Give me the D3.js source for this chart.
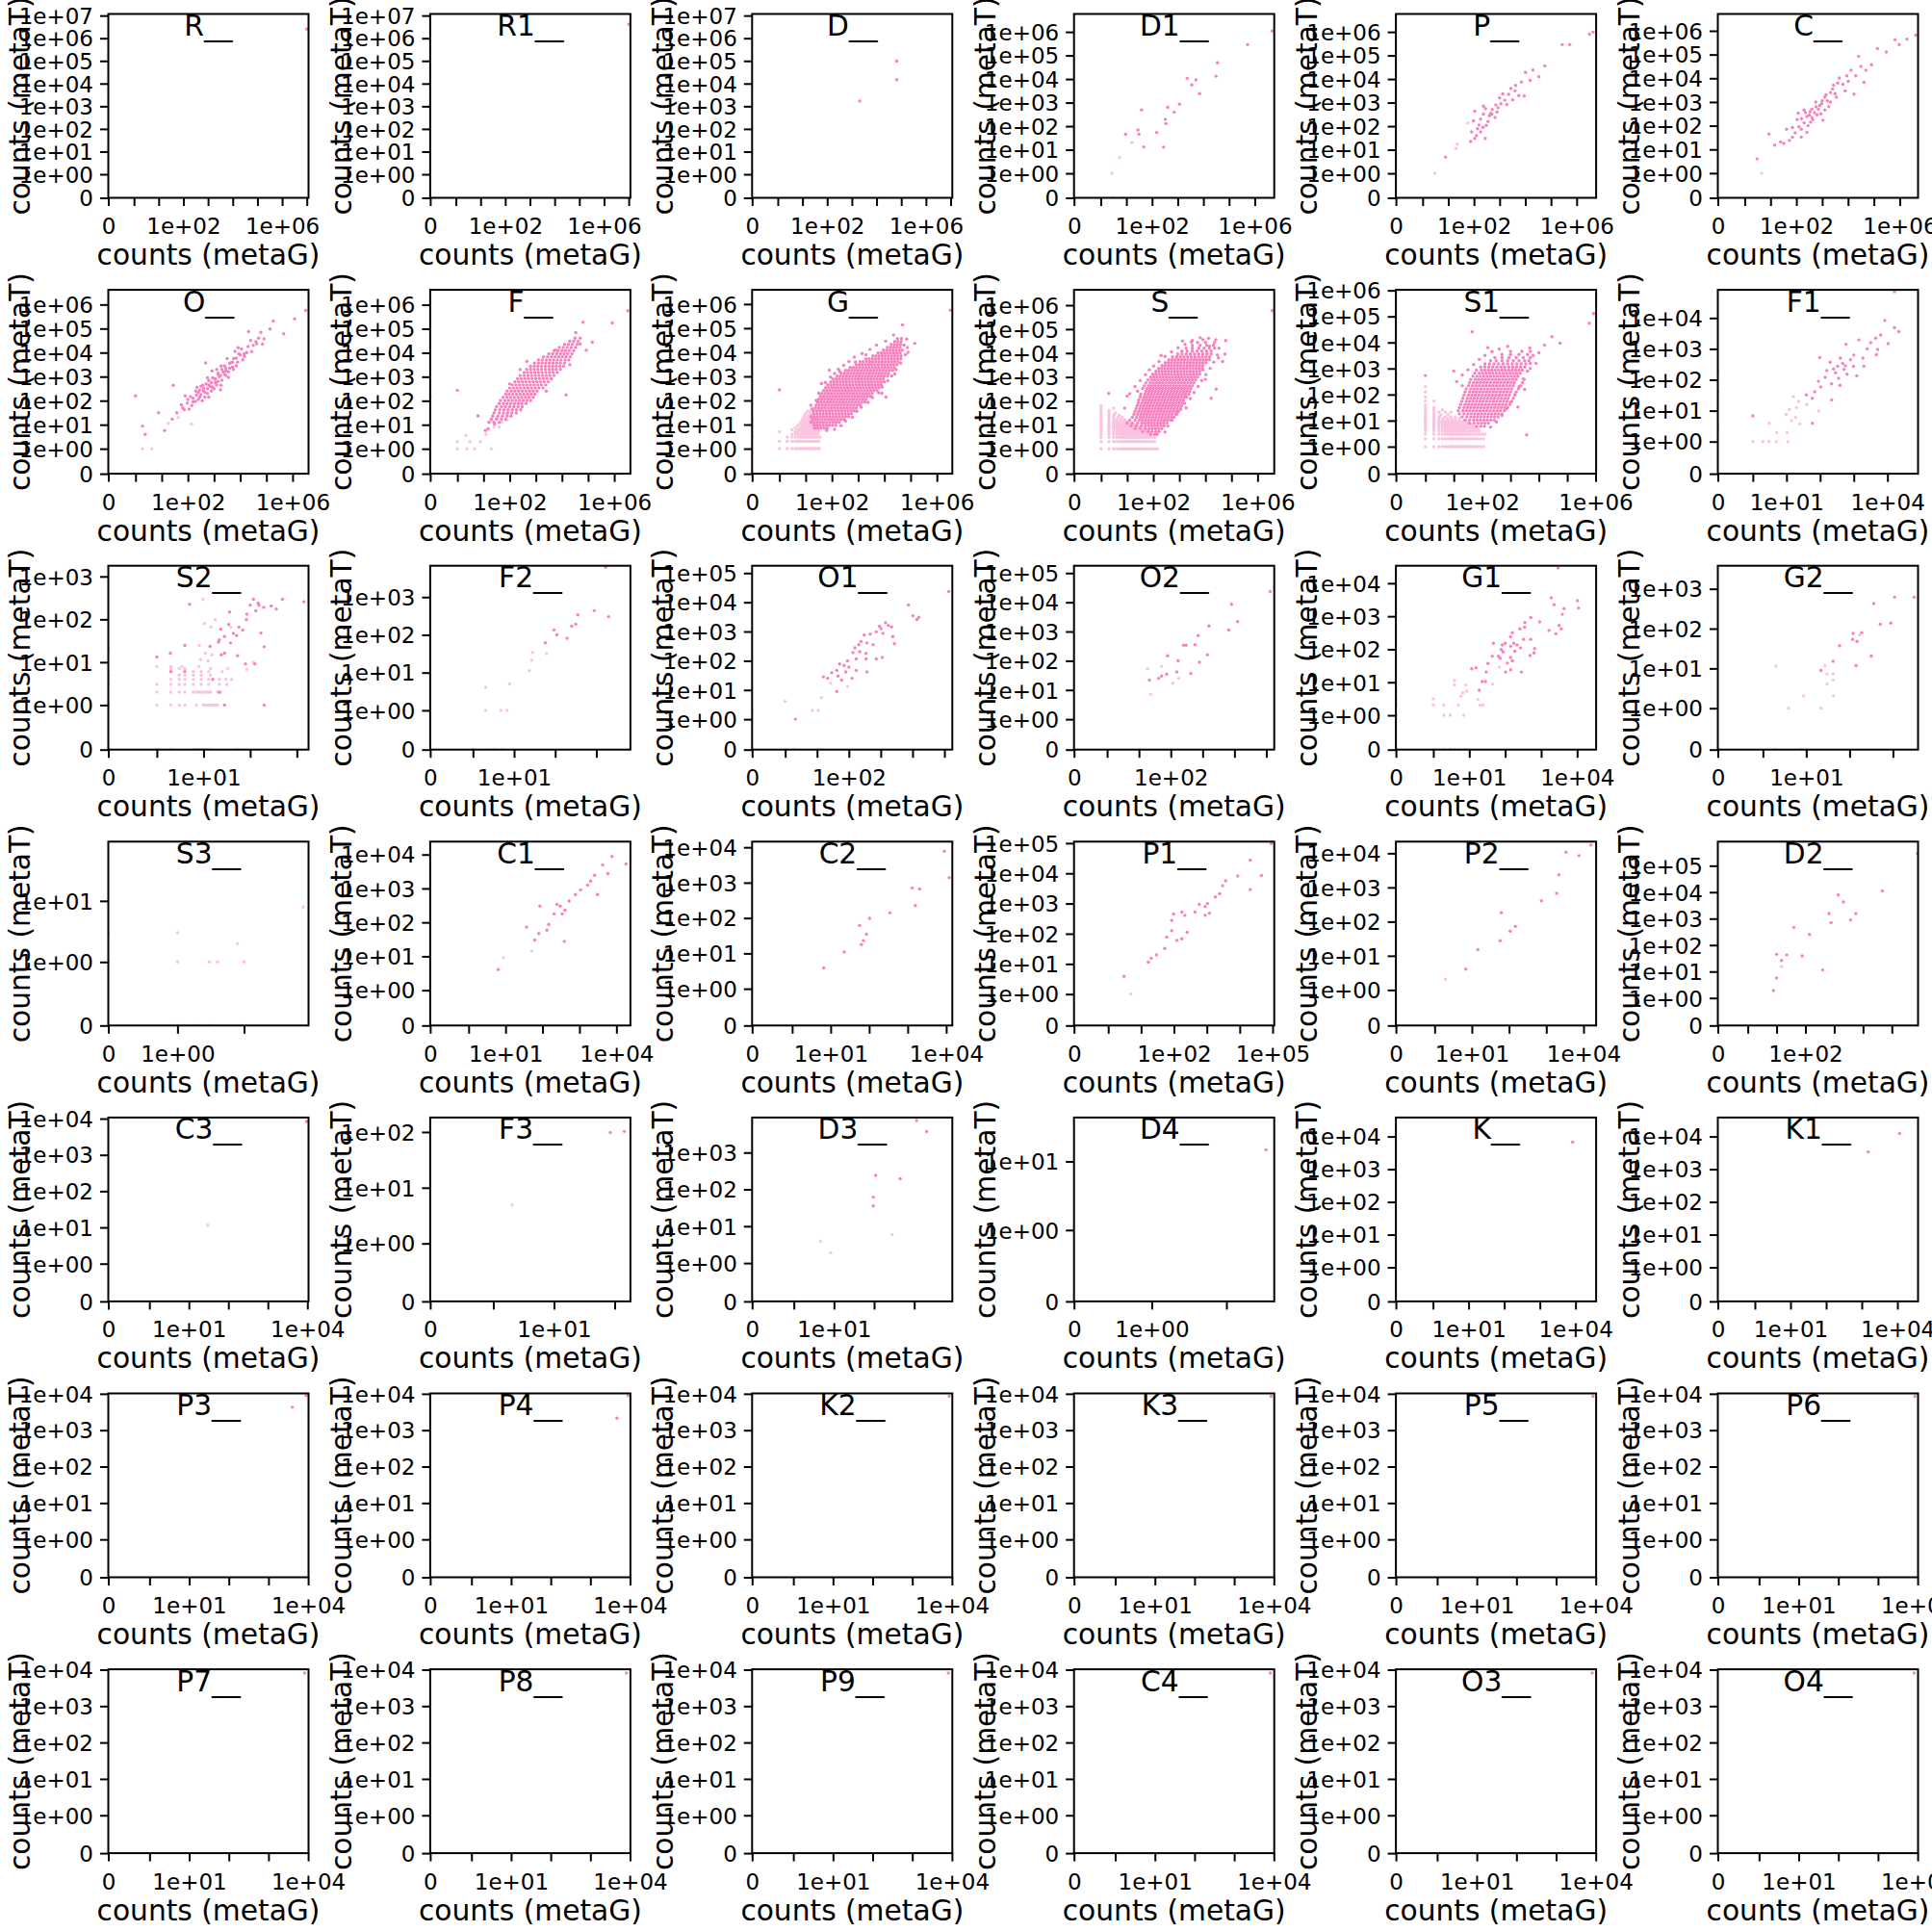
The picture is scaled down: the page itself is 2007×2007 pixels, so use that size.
<!DOCTYPE html>
<html><head><meta charset="utf-8">
<script src="https://cdn.jsdelivr.net/npm/d3@7"></script>
<style>
body{margin:0;background:#fff}
svg{display:block}
text{font-family:"DejaVu Sans",sans-serif;fill:#000}
</style>
</head><body>
<svg id="chart" width="2007" height="2007"></svg>
<script>
// ---------- helper for the data rows (value = log10(count), null = a count of 0) ----------
function rows(list){const out=[];list.forEach(([yv,xs])=>xs.forEach(xv=>out.push([xv,yv])));return out;}

// ---------- panels ----------
const panelNames=["R","R1","D","D1","P","C","O","F","G","S","S1","F1","S2","F2","O1","O2","G1","G2","S3","C1","C2","P1","P2","D2","C3","F3","D3","D4","K","K1","P3","P4","K2","K3","P5","P6","P7","P8","P9","C4","O3","O4"];
// log10 of the axis maximum (both axes share it)
const axisMaxLog=[7.07,7.07,7.07,6.76,6.76,6.71, 6.61,6.62,6.59,6.64,6.02,4.91, 3.25,3.83,5.25,5.25,4.53,3.58, 1.97,4.38,4.16,5.05,4.34,5.91, 4.03,2.26,3.95,1.64,4.58,4.58, 4.01,4.01,4.01,4.01,4.01,4.01, 4.01,4.01,4.01,4.01,4.01,4.01];
// decades that carry a label on the x axis ("0" is always labelled)
const xLabelExps=[[2,6],[2,6],[2,6],[2,6],[2,6],[2,6], [2,6],[2,6],[2,6],[2,6],[2,6],[1,4], [1],[1],[2],[2],[1,4],[1], [0],[1,4],[1,4],[2,5],[1,4],[2], [1,4],[1],[1],[0],[1,4],[1,4], [1,4],[1,4],[1,4],[1,4],[1,4],[1,4], [1,4],[1,4],[1,4],[1,4],[1,4],[1,4]];

// ---------- points: [log10 metaG count, log10 metaT count] ----------
const R_dark=[[7.0,6.4]], R_light=[];
const R1_dark=[[7.0,6.62]], R1_light=[];
const D_dark=[[4.82,4.99],[4.82,4.17],[3.32,3.23]], D_light=[];
const D1_dark=[[6.68,6.04],[5.72,5.46],[4.55,4.69],[4.49,4.12],[3.37,4.03],[3.71,3.96],[3.55,3.75],[3.85,3.38],[3.07,2.93],[2.61,2.8],[2.86,2.59],[2.52,2.29],[2.54,2.11],[1.59,2.69],[1.45,1.84],[1.49,1.66],[0.97,1.66],[2.18,1.73],[1.68,1.12],[2.45,1.11]];
const D1_light=[[1.22,1.3],[0.74,0.67],[0.44,0],[0,null],[0.44,null],[0.86,null]];
const P_dark=[[6.64,5.99],[6.5,5.9],[5.44,5.46],[5.73,5.46],[4.76,4.56],[4.53,4.1],[4.3,4.38],[4.01,4.28],[4.19,3.94],[3.85,3.87],[3.62,3.73],[3.44,3.6],[3.96,3.28],[3.12,3.37],[3.51,3.12],[3.28,2.92],[2.94,2.78],[2.71,2.71],[2.6,2.44],[2.37,2.85],[2.37,2.51],[2.26,2.3],[2.03,2.64],[1.98,2.23],[2.14,1.89],[1.91,1.76],[2.26,1.76],[2.03,1.48],[2.44,1.48],[1.87,1.35],[2.48,2.03],[2.82,2.37],[0.89,0.69],[2.2,2.05],[2.55,2.2],[2.7,2.5],[2.9,2.6],[3.05,2.95],[3.2,3.1],[2.45,2.75],[2.1,1.6],[2.35,1.95],[2.85,2.9],[3.35,3.35],[2.65,2.55],[3.0,3.2],[3.6,3.5],[3.75,3.3]];
const P_light=[[1.76,2.14],[1.35,1.24],[1.3,1.05],[0.48,0]];
const C_dark=[[6.62,5.82],[6.28,5.65],[5.82,5.62],[5.98,5.42],[5.48,5.11],[5.14,5.25],[4.41,4.92],[4.91,4.57],[4.69,4.34],[4.12,4.34],[4.62,3.83],[4.01,3.87],[3.66,4.01],[3.44,3.71],[3.89,3.47],[3.32,3.4],[3.55,3.2],[3.1,3.2],[4.23,3.33],[3.32,3.0],[2.98,2.93],[2.76,2.8],[3.1,2.66],[2.53,2.59],[2.8,2.46],[2.3,2.66],[2.41,2.39],[2.64,2.26],[2.07,2.53],[2.03,2.26],[2.3,2.12],[3.03,2.23],[1.85,1.92],[2.19,1.85],[2.41,1.72],[1.62,1.85],[1.85,1.52],[2.19,1.52],[1.39,1.32],[1.16,1.18],[1.51,1.25],[1.73,1.38],[0.94,1.65],[0.48,0.6],[2.5,2.45],[2.6,2.7],[2.7,2.55],[2.85,2.7],[2.9,2.85],[3.0,3.05],[3.2,3.05],[3.4,3.55],[3.6,3.8],[3.8,3.75],[3.25,2.8],[2.45,2.0],[2.2,2.3],[2.6,2.35],[2.95,2.5],[3.5,3.35],[3.15,3.3],[2.35,2.55],[2.75,3.0],[3.95,4.1],[4.3,4.1],[4.5,4.5],[2.1,1.95],[1.95,1.7],[2.55,2.15]];
const C_light=[[0.66,0]];
const O_dark=[[6.5,5.75],[6.08,5.4],[5.66,4.78],[5.26,5.31],[5.14,4.98],[4.79,4.84],[4.91,4.57],[4.63,4.37],[4.32,4.87],[4.44,4.04],[4.16,3.84],[3.92,4.2],[3.85,3.77],[3.62,3.57],[3.74,3.3],[3.46,3.24],[3.27,3.44],[3.55,2.97],[3.15,3.1],[2.92,3.24],[3.03,2.9],[2.8,2.84],[2.68,3.57],[3.27,2.64],[2.92,2.57],[2.57,2.64],[2.45,2.44],[2.75,2.3],[2.33,2.24],[2.1,2.17],[2.29,1.97],[1.98,1.9],[1.75,1.83],[1.86,1.63],[1.58,1.5],[1.44,2.64],[1.4,1.23],[0.88,1.5],[1.11,0.76],[0.27,0.94],[0.37,0.6],[0,2.2],[2.6,2.5],[2.7,2.7],[2.85,2.6],[2.95,2.95],[3.05,2.75],[3.2,3.0],[3.35,3.2],[3.4,3.45],[3.6,3.35],[3.1,3.3],[2.5,2.25],[2.4,2.05],[2.2,2.1],[2.55,2.0],[2.65,2.35],[2.9,2.4],[3.0,2.5],[3.15,2.8],[3.3,2.85],[3.45,3.05],[3.7,3.6],[3.85,3.45],[4.0,3.9],[4.1,3.7],[4.25,4.0],[4.5,4.3],[4.7,4.6],[4.85,4.35],[2.15,1.8],[2.0,2.05],[2.75,2.95],[3.5,3.75],[3.8,4.05],[2.35,2.55],[3.25,2.45],[2.8,2.15],[1.9,2.2],[2.05,1.65],
 [2.4,2.35],[2.5,2.6],[2.6,2.4],[2.65,2.15],[2.75,2.5],[2.8,2.65],[2.9,2.75],[2.95,2.55],[3.05,2.9],[3.1,2.65],[3.15,3.15],[3.25,3.05],[3.3,3.3],[3.4,3.1],[3.45,3.35],[3.55,3.2],[3.6,3.55],[3.7,3.4],[3.75,3.75],[3.9,3.6],[3.95,3.95],[4.05,4.15],[4.15,3.95],[4.3,4.25],[4.4,4.5],[4.6,4.45],[2.3,2.4],[2.2,1.95],[2.45,2.15],[1.8,1.7]];
const O_light=[[1.63,1.3],[2.14,1.03],[0.27,0],[0.62,0],[0,null],[1.25,1.05]];
const F_dark=rows([
 [1.1,[1.2,1.4,1.6]],[1.23,[1.3,1.5,1.68,1.85]],[1.36,[1.35,1.55,1.72,1.9,2.05]],[1.49,[1.4,1.6,1.76,1.92,2.08,2.25]],
 [1.62,[1.45,1.62,1.78,1.94,2.1,2.26,2.42]],[1.75,[1.5,1.68,1.84,2.0,2.16,2.32,2.48]],
 [1.88,[1.6,1.76,1.9,2.04,2.18,2.32,2.46,2.62]],[2.01,[1.65,1.82,1.96,2.1,2.24,2.38,2.52,2.66,2.8]],
 [2.14,[1.75,1.9,2.04,2.18,2.32,2.46,2.6,2.74,2.9]],[2.27,[1.85,1.98,2.12,2.26,2.4,2.54,2.68,2.82,2.96]],
 [2.4,[1.9,2.06,2.2,2.34,2.48,2.62,2.76,2.9,3.05]],[2.53,[2.0,2.14,2.28,2.42,2.56,2.7,2.84,2.98,3.12,3.28]],
 [2.66,[2.1,2.24,2.38,2.52,2.66,2.8,2.94,3.08,3.22,3.38]],[2.79,[2.2,2.34,2.48,2.62,2.76,2.9,3.04,3.18,3.32,3.48]],
 [2.92,[2.3,2.44,2.58,2.72,2.86,3.0,3.14,3.28,3.42,3.58]],[3.05,[2.4,2.55,2.7,2.84,2.98,3.12,3.26,3.4,3.54,3.7]],
 [3.18,[2.55,2.68,2.82,2.96,3.1,3.24,3.38,3.52,3.66,3.82]],[3.31,[2.65,2.8,2.94,3.08,3.22,3.36,3.5,3.64,3.78,3.94]],
 [3.44,[2.8,2.94,3.08,3.22,3.36,3.5,3.64,3.78,3.92,4.06]],[3.57,[2.95,3.1,3.24,3.38,3.52,3.66,3.8,3.94,4.1]],
 [3.7,[3.1,3.25,3.4,3.54,3.68,3.82,3.96,4.12,4.26]],[3.83,[3.3,3.45,3.6,3.74,3.88,4.02,4.16,4.32]],
 [3.96,[3.5,3.65,3.8,3.94,4.08,4.22,4.38]],[4.09,[3.7,3.85,4.0,4.14,4.28,4.45]],
 [4.22,[3.9,4.05,4.2,4.35,4.52]],[4.35,[4.1,4.25,4.4,4.58]],[4.48,[4.3,4.45,4.62]],[4.61,[4.5,4.7]]
]).concat([[6.52,5.75],[5.92,5.24],[4.81,5.27],[4.53,4.84],[5.16,4.44],[4.93,4.11],[4.7,4.37],[2.66,3.64],[4.16,2.24],[0,2.44],[0.79,1.37],[1.07,0.76],[1.18,0.83],[1.42,1.03],[1.3,1.23],[3.76,4.11],[3.4,2.4],[3.6,2.9],[2.0,2.7],[2.4,3.3],[4.3,3.5]]);
const F_light=[[0,0],[0.36,0],[0.65,0],[1.3,0],[0.32,0.56],[0.48,0.3],[0.88,0.3],[0,0.3],[0,null],[0.55,null],[null,2.2],[null,0.85],[1.25,1.1],[1.5,1.3],[1.4,0.9],[1.7,1.1],[1.9,1.45],[1.1,0.6],[1.6,0.9],[1.9,1.2]];
const G_dark=rows([
 [0.85,[1.35,1.47,1.59,1.71,1.83]],
 [0.97,[1.31,1.43,1.55,1.67,1.79,1.91,2.03,2.15]],
 [1.09,[1.2,1.32,1.44,1.56,1.68,1.8,1.92,2.04,2.16,2.28]],
 [1.21,[1.26,1.38,1.5,1.62,1.74,1.86,1.98,2.1,2.22,2.34,2.46]],
 [1.33,[1.2,1.32,1.44,1.56,1.68,1.8,1.92,2.04,2.16,2.28,2.4,2.52,2.64]],
 [1.45,[1.31,1.43,1.55,1.67,1.79,1.91,2.03,2.15,2.27,2.39,2.51,2.63,2.75]],
 [1.57,[1.3,1.42,1.54,1.66,1.78,1.9,2.02,2.14,2.26,2.38,2.5,2.62,2.74,2.86]],
 [1.69,[1.37,1.49,1.61,1.73,1.85,1.97,2.09,2.21,2.33,2.45,2.57,2.69,2.81,2.93]],
 [1.81,[1.4,1.52,1.64,1.76,1.88,2.0,2.12,2.24,2.36,2.48,2.6,2.72,2.84,2.96,3.08]],
 [1.93,[1.46,1.58,1.7,1.82,1.94,2.06,2.18,2.3,2.42,2.54,2.66,2.78,2.9,3.02,3.14,3.26]],
 [2.05,[1.5,1.62,1.74,1.86,1.98,2.1,2.22,2.34,2.46,2.58,2.7,2.82,2.94,3.06,3.18,3.3]],
 [2.17,[1.56,1.68,1.8,1.92,2.04,2.16,2.28,2.4,2.52,2.64,2.76,2.88,3.0,3.12,3.24,3.36,3.48]],
 [2.29,[1.62,1.74,1.86,1.98,2.1,2.22,2.34,2.46,2.58,2.7,2.82,2.94,3.06,3.18,3.3,3.42,3.54]],
 [2.41,[1.68,1.8,1.92,2.04,2.16,2.28,2.4,2.52,2.64,2.76,2.88,3.0,3.12,3.24,3.36,3.48,3.6,3.72]],
 [2.53,[1.76,1.88,2.0,2.12,2.24,2.36,2.48,2.6,2.72,2.84,2.96,3.08,3.2,3.32,3.44,3.56,3.68,3.8]],
 [2.65,[1.84,1.96,2.08,2.2,2.32,2.44,2.56,2.68,2.8,2.92,3.04,3.16,3.28,3.4,3.52,3.64,3.76,3.88]],
 [2.77,[1.96,2.08,2.2,2.32,2.44,2.56,2.68,2.8,2.92,3.04,3.16,3.28,3.4,3.52,3.64,3.76,3.88,4.0]],
 [2.89,[2.04,2.16,2.28,2.4,2.52,2.64,2.76,2.88,3.0,3.12,3.24,3.36,3.48,3.6,3.72,3.84,3.96]],
 [3.01,[2.2,2.32,2.44,2.56,2.68,2.8,2.92,3.04,3.16,3.28,3.4,3.52,3.64,3.76,3.88,4.0,4.12]],
 [3.13,[2.36,2.48,2.6,2.72,2.84,2.96,3.08,3.2,3.32,3.44,3.56,3.68,3.8,3.92,4.04,4.16]],
 [3.25,[2.52,2.64,2.76,2.88,3.0,3.12,3.24,3.36,3.48,3.6,3.72,3.84,3.96,4.08,4.2,4.32]],
 [3.37,[2.7,2.82,2.94,3.06,3.18,3.3,3.42,3.54,3.66,3.78,3.9,4.02,4.14,4.26,4.38]],
 [3.49,[2.92,3.04,3.16,3.28,3.4,3.52,3.64,3.76,3.88,4.0,4.12,4.24,4.36,4.48]],
 [3.61,[3.08,3.2,3.32,3.44,3.56,3.68,3.8,3.92,4.04,4.16,4.28,4.4,4.52]],
 [3.73,[3.3,3.42,3.54,3.66,3.78,3.9,4.02,4.14,4.26,4.38,4.5,4.62]],
 [3.85,[3.56,3.68,3.8,3.92,4.04,4.16,4.28,4.4,4.52,4.64]],
 [3.97,[3.76,3.88,4.0,4.12,4.24,4.36,4.48,4.6]],
 [4.09,[3.96,4.08,4.2,4.32,4.44,4.56,4.68]],
 [4.21,[4.12,4.24,4.36,4.48,4.6]],
 [4.33,[4.26,4.38,4.5,4.62]],[4.45,[4.4,4.52,4.64]],[4.57,[4.5,4.65]]
]).concat([[0,2.44],[1.9,3.26],[4.06,2.14],[5.16,4.37],[4.69,5.14],[4.85,4.55],[6.51,5.75],[1.6,2.7],[2.3,3.2],[4.9,4.0],[4.75,4.3],[3.9,2.3],[1.2,1.8],[2.9,3.6],[3.3,3.9],[4.4,3.1],
 [1.25,1.65],[1.4,2.0],[1.5,2.3],[1.75,2.75],[1.95,2.97],[2.1,3.12],[2.25,3.3],[2.45,3.46],[2.65,3.62],[2.85,3.8],[3.15,3.95],[3.45,4.12],[3.7,4.3],[4.05,4.46],[4.35,4.72],
 [1.8,0.75],[2.1,0.8],[2.35,0.95],[2.52,1.15],[2.78,1.3],[2.95,1.55],[3.12,1.72],[3.38,1.92],[3.55,2.12],[3.78,2.32],[3.92,2.56],[4.13,2.82],[4.28,3.02],[4.45,3.28],[4.62,3.55],[4.8,3.9],[4.88,4.2]]);
const G_light=rows([
 [0,[0,0.3,0.48,0.6,0.7,0.78,0.85,0.9,0.95,1.0,1.08,1.15,1.2,1.26,1.32,1.38,1.45,1.52]],
 [0.3,[0,0.3,0.48,0.6,0.7,0.78,0.85,0.9,0.95,1.0,1.08,1.15,1.2,1.26,1.32,1.4,1.5]],
 [0.48,[0.3,0.48,0.6,0.7,0.78,0.85,0.9,0.95,1.0,1.08,1.15,1.23,1.3,1.38,1.46,1.55]],
 [0.6,[0.48,0.6,0.7,0.78,0.85,0.9,0.95,1.0,1.08,1.15,1.23,1.3,1.38,1.46]],
 [0.7,[0,0.6,0.7,0.85,0.9,0.95,1.0,1.08,1.15,1.23,1.3,1.4,1.5]],
 [0.78,[0.48,0.7,0.78,0.85,0.95,1.0,1.1,1.2,1.3,1.4,1.5]],
 [0.85,[0.6,0.78,0.9,1.0,1.08,1.15,1.23,1.32,1.42]],
 [0.95,[0.7,0.85,0.95,1.04,1.11,1.2,1.28,1.36,1.45]],
 [1.04,[0.78,0.9,1.0,1.08,1.15,1.23,1.3,1.4]],
 [1.15,[0.85,0.95,1.04,1.15,1.23,1.32]],[1.26,[0.9,1.0,1.11,1.2,1.3,1.4]],[1.36,[0.95,1.08,1.2,1.3]],
 [1.46,[1.0,1.15,1.26]],[1.56,[1.08,1.2]],
 [null,[0.3,0.6,0.85,1.0,1.15,1.3,1.45]],[1.2,[null]],[0.5,[null]]
]);
const S_dark=rows([
 [0.6,[1.9,2.05,2.15]],[0.72,[1.6,1.8,1.95,2.1,2.22]],[0.84,[1.3,1.5,1.7,1.85,1.97,2.09,2.21,2.33]],
 [0.96,[1.15,1.35,1.55,1.7,1.82,1.94,2.06,2.18,2.3,2.42]],
 [1.08,[1.0,1.2,1.4,1.56,1.68,1.8,1.92,2.04,2.16,2.28,2.4,2.52]],
 [1.2,[1.1,1.3,1.46,1.58,1.7,1.82,1.94,2.06,2.18,2.3,2.42,2.54,2.66]],
 [1.32,[1.2,1.36,1.5,1.62,1.74,1.86,1.98,2.1,2.22,2.34,2.46,2.58,2.7,2.8]],
 [1.44,[1.26,1.4,1.52,1.64,1.76,1.88,2.0,2.12,2.24,2.36,2.48,2.6,2.72,2.86]],
 [1.56,[1.3,1.44,1.56,1.68,1.8,1.92,2.04,2.16,2.28,2.4,2.52,2.64,2.76,2.88,2.96]],
 [1.68,[1.34,1.48,1.6,1.72,1.84,1.96,2.08,2.2,2.32,2.44,2.56,2.68,2.8,2.92,3.04]],
 [1.8,[1.38,1.52,1.64,1.76,1.88,2.0,2.12,2.24,2.36,2.48,2.6,2.72,2.84,2.96,3.08]],
 [1.92,[1.42,1.56,1.68,1.8,1.92,2.04,2.16,2.28,2.4,2.52,2.64,2.76,2.88,3.0,3.12]],
 [2.04,[1.44,1.6,1.72,1.84,1.96,2.08,2.2,2.32,2.44,2.56,2.68,2.8,2.92,3.04,3.16]],
 [2.16,[1.5,1.64,1.76,1.88,2.0,2.12,2.24,2.36,2.48,2.6,2.72,2.84,2.96,3.08,3.2,3.28]],
 [2.28,[1.52,1.68,1.8,1.92,2.04,2.16,2.28,2.4,2.52,2.64,2.76,2.88,3.0,3.12,3.24,3.36]],
 [2.4,[1.4,1.72,1.84,1.96,2.08,2.2,2.32,2.44,2.56,2.68,2.8,2.92,3.04,3.16,3.28,3.4]],
 [2.52,[1.6,1.76,1.88,2.0,2.12,2.24,2.36,2.48,2.6,2.72,2.84,2.96,3.08,3.2,3.32,3.44]],
 [2.64,[1.66,1.82,1.94,2.06,2.18,2.3,2.42,2.54,2.66,2.78,2.9,3.02,3.14,3.26,3.38,3.5]],
 [2.76,[1.72,1.88,2.0,2.12,2.24,2.36,2.48,2.6,2.72,2.84,2.96,3.08,3.2,3.32,3.44,3.56]],
 [2.88,[1.8,1.94,2.06,2.18,2.3,2.42,2.54,2.66,2.78,2.9,3.02,3.14,3.26,3.38,3.5,3.62]],
 [3.0,[1.9,2.02,2.14,2.26,2.38,2.5,2.62,2.74,2.86,2.98,3.1,3.22,3.34,3.46,3.58,3.7]],
 [3.12,[1.98,2.1,2.22,2.34,2.46,2.58,2.7,2.82,2.94,3.06,3.18,3.3,3.42,3.54,3.66,3.78]],
 [3.24,[2.1,2.22,2.34,2.46,2.58,2.7,2.82,2.94,3.06,3.18,3.3,3.42,3.54,3.66,3.78]],
 [3.36,[2.2,2.32,2.44,2.56,2.68,2.8,2.92,3.04,3.16,3.28,3.4,3.52,3.64,3.76,3.88]],
 [3.48,[2.34,2.46,2.58,2.7,2.82,2.94,3.06,3.18,3.3,3.42,3.54,3.66,3.78,3.9]],
 [3.6,[2.46,2.58,2.7,2.82,2.94,3.06,3.18,3.3,3.42,3.54,3.66,3.78,3.9,4.02]],
 [3.72,[2.6,2.72,2.84,2.96,3.08,3.2,3.32,3.44,3.56,3.68,3.8,3.92,4.04,4.16]],
 [3.84,[2.74,2.9,3.04,3.18,3.32,3.46,3.6,3.74,3.88,4.02,4.16]],
 [3.96,[2.94,3.1,3.26,3.42,3.58,3.74,3.9,4.06,4.22]],
 [4.08,[3.1,3.3,3.5,3.68,3.86,4.04,4.22]],[4.2,[3.26,3.5,3.75,3.95,4.15,4.35]],
 [4.32,[3.5,3.8,4.05,4.3]],[4.44,[3.7,4.0,4.35]],[4.56,[3.9,4.4]]
]).concat([[3.12,4.5],[3.46,4.46],[4.16,4.28],[4.78,4.52],[4.75,3.96],[4.66,3.65],[4.22,2.11],[3.26,1.71],[4.41,2.49],[0.29,2.31],[6.56,5.77],[4.5,3.8],[2.3,3.9],[3.9,3.3],[4.0,2.9],[1.0,2.2],[0.9,1.7],
 [1.1,2.3],[1.3,2.6],[1.5,2.85],[1.7,3.1],[1.85,3.3],[2.02,3.46],[2.22,3.65],[2.45,3.86],[2.7,4.05],[2.95,4.22],[3.22,4.36],[3.5,4.52],[3.8,4.64],[4.12,4.62],
 [2.45,0.7],[2.56,0.95],[2.72,1.2],[2.9,1.45],[3.05,1.65],[3.2,1.9],[3.42,2.1],[3.56,2.35],[3.72,2.6],[3.86,2.85],[4.02,3.1],[4.18,3.36],[4.32,3.62],[4.46,3.92],[4.52,4.2]]);
const S_light=rows([
 [0,[0,0.3,0.48,0.6,0.7,0.78,0.85,0.9,0.95,1.0,1.08,1.15,1.2,1.26,1.32,1.38,1.45,1.52,1.6,1.68,1.76,1.85,1.95,2.05,2.15]],
 [0.3,[0,0.3,0.48,0.6,0.7,0.78,0.85,0.9,0.95,1.0,1.08,1.15,1.2,1.26,1.32,1.38,1.45,1.52,1.6,1.68,1.76,1.85,1.95,2.05]],
 [0.48,[0,0.3,0.48,0.6,0.7,0.78,0.85,0.9,0.95,1.0,1.08,1.15,1.2,1.26,1.32,1.38,1.45,1.52,1.6,1.68,1.76,1.85,1.95,2.05]],
 [0.6,[0,0.3,0.48,0.6,0.7,0.78,0.85,0.9,0.95,1.0,1.08,1.15,1.2,1.26,1.32,1.38,1.45,1.52,1.6,1.7,1.8,1.9]],
 [0.7,[0,0.3,0.48,0.6,0.7,0.78,0.85,0.9,0.95,1.0,1.08,1.15,1.2,1.26,1.32,1.4,1.48,1.56,1.65,1.75,1.85]],
 [0.78,[0,0.3,0.48,0.6,0.7,0.78,0.85,0.9,0.95,1.0,1.08,1.15,1.2,1.28,1.36,1.44,1.52,1.6,1.7,1.8]],
 [0.85,[0,0.3,0.48,0.6,0.7,0.78,0.85,0.9,0.95,1.0,1.08,1.15,1.23,1.3,1.38,1.46,1.55,1.65]],
 [0.9,[0,0.3,0.48,0.6,0.7,0.78,0.85,0.92,1.0,1.08,1.15,1.23,1.3,1.4,1.5]],
 [0.95,[0,0.3,0.48,0.6,0.7,0.78,0.85,0.92,1.0,1.08,1.18,1.28,1.38]],
 [1.0,[0,0.3,0.48,0.6,0.7,0.78,0.88,0.96,1.04,1.12,1.2,1.3]],
 [1.08,[0,0.3,0.48,0.6,0.7,0.8,0.9,1.0,1.1]],[1.15,[0,0.3,0.48,0.6,0.72,0.85,0.95,1.05]],
 [1.23,[0,0.3,0.48,0.6,0.75,0.9]],[1.32,[0,0.3,0.48,0.65,0.8]],[1.41,[0,0.3,0.5,0.7]],
 [1.5,[0,0.3,0.55]],[1.6,[0,0.3]],[1.7,[0,0.48]],[1.8,[0]],
 [null,[0.3,0.48,0.6,0.7,0.78,0.9,1.0,1.1,1.2,1.3,1.4,1.5,1.6,1.7,1.8,1.9]],
 [0,[null]],[0.5,[null]],[1.0,[null]],[1.5,[null]],[1.9,[null]]
]);
const S1_dark=rows([
 [0.78,[1.8,1.95,2.08]],[0.9,[1.55,1.72,1.86,1.98,2.1,2.22]],[1.02,[1.4,1.56,1.7,1.82,1.94,2.06,2.18,2.3,2.42]],
 [1.14,[1.3,1.46,1.6,1.72,1.84,1.96,2.08,2.2,2.32,2.44,2.56]],
 [1.26,[1.2,1.36,1.5,1.62,1.74,1.86,1.98,2.1,2.22,2.34,2.46,2.58,2.7]],
 [1.38,[1.16,1.32,1.44,1.56,1.68,1.8,1.92,2.04,2.16,2.28,2.4,2.52,2.64,2.78]],
 [1.5,[1.2,1.36,1.48,1.6,1.72,1.84,1.96,2.08,2.2,2.32,2.44,2.56,2.68,2.8,2.9]],
 [1.62,[1.24,1.4,1.52,1.64,1.76,1.88,2.0,2.12,2.24,2.36,2.48,2.6,2.72,2.84,2.98]],
 [1.74,[1.28,1.44,1.56,1.68,1.8,1.92,2.04,2.16,2.28,2.4,2.52,2.64,2.76,2.88,3.04]],
 [1.86,[1.32,1.48,1.6,1.72,1.84,1.96,2.08,2.2,2.32,2.44,2.56,2.68,2.8,2.92,3.1]],
 [1.98,[1.36,1.52,1.64,1.76,1.88,2.0,2.12,2.24,2.36,2.48,2.6,2.72,2.84,2.96,3.16]],
 [2.1,[1.4,1.56,1.68,1.8,1.92,2.04,2.16,2.28,2.4,2.52,2.64,2.76,2.88,3.0,3.2]],
 [2.22,[1.44,1.6,1.72,1.84,1.96,2.08,2.2,2.32,2.44,2.56,2.68,2.8,2.92,3.04,3.28]],
 [2.34,[1.3,1.52,1.66,1.78,1.9,2.02,2.14,2.26,2.38,2.5,2.62,2.74,2.86,2.98,3.1,3.36]],
 [2.46,[1.56,1.7,1.82,1.94,2.06,2.18,2.3,2.42,2.54,2.66,2.78,2.9,3.02,3.14,3.42]],
 [2.58,[1.6,1.76,1.88,2.0,2.12,2.24,2.36,2.48,2.6,2.72,2.84,2.96,3.08,3.2,3.48]],
 [2.7,[1.68,1.82,1.94,2.06,2.18,2.3,2.42,2.54,2.66,2.78,2.9,3.02,3.14,3.26]],
 [2.82,[1.74,1.9,2.02,2.14,2.26,2.38,2.5,2.62,2.74,2.86,2.98,3.1,3.22,3.34]],
 [2.94,[1.8,1.98,2.1,2.22,2.34,2.46,2.58,2.7,2.82,2.94,3.06,3.18,3.3,3.42]],
 [3.06,[1.95,2.1,2.24,2.38,2.52,2.66,2.8,2.94,3.08,3.22,3.36,3.5]],
 [3.18,[2.1,2.26,2.42,2.58,2.74,2.9,3.06,3.22,3.38,3.54]],
 [3.3,[2.3,2.5,2.7,2.9,3.1,3.3,3.5,3.65]],[3.42,[2.45,2.7,2.95,3.2,3.45,3.7]],
 [3.54,[2.7,3.0,3.3,3.6]],[3.66,[3.0,3.4,3.7]]
]).concat([[3.68,3.79],[4.46,4.22],[4.75,3.97],[4.0,3.6],[1.65,4.41],[0,2.73],[3.57,0.45],[3.26,1.52],[5.78,4.74],[5.93,5.11],[4.2,3.9],[3.9,3.2],[3.5,2.2],[3.7,3.0],[2.2,3.8],[1.0,2.9],
 [1.1,2.5],[1.3,2.75],[1.5,2.95],[1.7,3.15],[1.9,3.35],[2.1,3.5],[2.35,3.65],[2.6,3.75],[2.9,3.85],
 [2.3,0.75],[2.5,0.95],[2.7,1.2],[2.85,1.45],[3.0,1.7],[3.15,2.0],[3.3,2.3],[3.45,2.6],[3.6,2.9],[3.7,3.2],[3.8,3.5]]);
const S1_light=rows([
 [0,[0,0.3,0.48,0.6,0.7,0.78,0.85,0.9,0.95,1.0,1.08,1.15,1.2,1.26,1.32,1.38,1.45,1.52,1.6,1.68,1.76,1.85,1.95,2.05]],
 [0.3,[0,0.3,0.48,0.6,0.7,0.78,0.85,0.9,0.95,1.0,1.08,1.15,1.2,1.26,1.32,1.38,1.45,1.52,1.6,1.68,1.76,1.85,1.95,2.05]],
 [0.48,[0,0.3,0.48,0.6,0.7,0.78,0.85,0.9,0.95,1.0,1.08,1.15,1.2,1.26,1.32,1.38,1.45,1.52,1.6,1.7,1.8,1.9,2.0,2.1]],
 [0.6,[0,0.3,0.48,0.6,0.7,0.78,0.85,0.9,0.95,1.0,1.08,1.15,1.2,1.26,1.32,1.4,1.5,1.6,1.7,1.8,1.9]],
 [0.7,[0,0.3,0.48,0.6,0.7,0.78,0.85,0.9,0.95,1.0,1.08,1.15,1.2,1.28,1.36,1.45,1.55,1.65,1.75,1.85]],
 [0.78,[0,0.3,0.48,0.6,0.7,0.78,0.85,0.9,0.95,1.0,1.08,1.15,1.23,1.3,1.4,1.5,1.6,1.7]],
 [0.85,[0,0.3,0.48,0.6,0.7,0.78,0.85,0.92,1.0,1.08,1.15,1.23,1.32,1.42,1.52,1.62]],
 [0.9,[0,0.3,0.48,0.6,0.7,0.78,0.86,0.95,1.04,1.12,1.2,1.3,1.4,1.5]],
 [0.95,[0,0.3,0.48,0.6,0.7,0.8,0.9,1.0,1.1,1.2,1.32,1.45]],
 [1.0,[0,0.3,0.48,0.6,0.72,0.84,0.96,1.08,1.2,1.35]],
 [1.08,[0,0.3,0.48,0.62,0.78,0.92,1.05,1.2]],[1.15,[0,0.3,0.5,0.7,0.88,1.05]],[1.23,[0,0.3,0.55,0.8]],
 [1.32,[0,0.3,0.48,0.7,0.9]],[1.41,[0,0.3,0.6]],[1.5,[0,0.3]],[1.6,[0]],[1.75,[0,0.3]],[1.9,[0]],[2.1,[0]],[2.3,[0]],
 [null,[0,0.3,0.48,0.6,0.78,0.9,1.0,1.1,1.2,1.3,1.45,1.6,1.75]],
 [0,[null]],[0.5,[null]],[1.0,[null]],[1.5,[null]],[2.0,[null]]
]);
const F1_dark=[[4.21,4.85],[3.92,3.92],[4.34,3.56],[4.21,3.69],[3.8,3.45],[3.65,3.35],[4.02,3.17],[3.71,2.98],[3.67,2.81],[3.15,3.29],[2.77,3.15],[1.99,2.72],[2.3,2.57],[2.52,2.44],[2.67,2.53],[2.71,2.34],[2.46,2.23],[2.8,2.18],[2.99,2.44],[3.09,2.13],[3.3,2.44],[3.27,2.7],[2.9,2.65],[2.15,2.08],[2.34,1.87],[2.59,1.82],[2.02,1.77],[1.84,1.61],[1.59,1.51],[1.77,1.4],[2.34,1.35],[1.77,0.59],[0,0.83],[2.55,2.05],[2.75,2.45],[3.0,2.8],[3.4,3.0],[2.4,2.35],[2.6,2.7],[3.5,3.2],[2.2,2.3],[1.95,1.95]];
const F1_light=[[1.96,0.99],[1.36,1.3],[1.21,1.45],[1.09,1.04],[0.99,0.88],[1.27,0.78],[1.4,0.57],[1.15,0.68],[0.71,0.29],[1.02,0.29],[0.49,0.59],[0,0],[0.3,0],[0.48,0],[0.7,0],[1.04,0],[0,null],[0.49,null],[0.9,null],[1.21,null],[null,2.3],[null,1.6],[null,0.5],[1.3,1.1],[1.6,1.2]];
const S2_dark=[[3.15,2.41],[2.69,2.47],[2.56,2.24],[2.45,2.31],[2.29,2.28],[2.19,2.33],[2.17,2.38],[2.07,2.47],[2.0,2.33],[2.12,2.2],[1.93,2.12],[1.92,1.99],[1.84,1.75],[1.71,1.62],[1.76,1.82],[2.23,1.68],[1.64,1.67],[1.54,1.88],[1.56,2.17],[1.37,1.77],[1.32,1.47],[1.45,1.6],[1.58,1.45],[0.7,2.35],[1.34,1.52],[1.14,1.37],[0.6,1.39],[0.29,1.21],[1.38,1.17],[1.45,1.21],[1.73,1.15],[1.9,0.96],[2.1,0.96],[2.3,1.36],[0,1.12],[0.3,0.78],[0.6,0.78],[1.2,0.6],[1.34,0.3],[1.45,0],[2.3,0]];
const S2_light=rows([
 [0,[0,0.3,0.48,0.6,0.85,1.0,1.04,1.08,1.11,1.15,1.18,1.2,1.23,1.26,1.3]],
 [0.3,[0,0.3,0.48,0.6,0.78,0.85,0.9,0.95,1.0,1.04,1.08,1.11,1.15,1.3,1.36]],
 [0.48,[0,0.3,0.48,0.6,0.78,0.95,1.11,1.34,1.5]],[0.6,[0.3,0.48,0.6,0.78,0.95,1.11,1.34,1.48,1.6]],
 [0.7,[0.48,0.6,0.78,0.95,1.15]],[0.78,[0.3,0.78,0.95,1.11,1.4]],[0.85,[0.3,0.48,0.6,1.15,1.52]],[0.9,[0,0.3,0.54,0.9]],
 [null,[0,0.3,0.78,0.85,0.9,0.95,1.0,1.04,1.08,1.15,1.75]],
 [1.33,[null]],[0.7,[null]],[0.6,[null]],[0.48,[null]],[0,[null]]
]).concat([[0.99,2.47],[1.02,1.9],[1.25,1.99],[1.16,1.82],[1.59,1.81],[1.04,1.21],[1.18,1.17],[0.91,1.39],[0.94,1.06],[1.1,1.03],[2.07,1.0],[1.93,0.83]]);
const F2_dark=[[3.23,3.79],[2.95,2.64],[3.3,2.48],[2.55,2.53],[2.5,2.28],[2.4,2.23],[1.97,2.13],[2.04,2.0],[2.29,1.91],[1.76,1.79]];
const F2_light=[[1.45,1.53],[1.43,1.33],[1.79,1.5],[1.37,1.05],[0.89,0.7],[0.31,0.61],[0.31,0],[0.68,0],[0.83,0],[0,null],[0.49,null],[0.71,null]];
const O1_dark=[[5.14,4.37],[3.87,3.91],[4.01,3.54],[4.2,3.49],[4.14,3.41],[3.15,3.3],[3.24,3.21],[3.34,3.16],[2.96,3.18],[3.01,3.1],[2.86,2.99],[3.07,2.94],[3.38,2.83],[3.43,2.58],[2.67,2.91],[2.48,2.88],[2.38,2.66],[2.57,2.61],[2.31,2.55],[2.19,2.44],[2.13,2.28],[2.34,2.31],[2.54,2.25],[2.76,2.55],[3.05,2.11],[2.86,2.06],[2.54,2.06],[2.23,2.06],[1.96,2.0],[1.85,1.84],[1.71,1.89],[2.0,1.78],[2.23,1.67],[2.57,1.62],[1.62,1.67],[1.9,1.62],[1.46,1.59],[1.2,1.45],[1.66,1.48],[1.33,1.4],[1.77,1.34],[2.1,1.4],[1.62,0.95],[0.32,0]];
const O1_light=[[1.43,1.23],[1.96,1.12],[1.14,0.74],[1.04,0.3],[0.85,0.3],[0,0.61],[0,null],[0.28,null],[1.04,null],[null,0.3]];
const O2_dark=[[5.12,4.37],[3.91,3.93],[4.1,3.34],[3.82,3.05],[3.2,3.19],[2.86,2.86],[2.76,2.55],[2.48,2.53],[2.4,2.53],[2.9,1.95],[3.15,2.2],[2.63,1.56],[2.23,2.0],[1.9,2.17],[2.19,1.62],[1.87,1.54],[1.71,1.48],[1.62,1.4],[1.33,1.34]];
const O2_light=[[1.27,1.73],[1.71,1.81],[2.06,1.23],[2.25,1.4],[1.37,0.85],[1.04,null]];
const G1_dark=[[3.47,4.46],[4.01,3.47],[4.04,3.25],[3.28,3.56],[3.36,3.35],[3.64,3.23],[3.59,3.06],[3.5,2.72],[3.56,2.62],[3.41,2.47],[3.22,2.57],[2.96,2.83],[2.71,2.96],[2.55,2.81],[2.54,2.67],[2.41,2.62],[2.2,2.5],[2.15,2.38],[2.24,2.18],[2.33,2.13],[2.51,2.3],[2.71,2.3],[2.82,2.02],[2.8,1.89],[2.69,1.81],[2.43,2.04],[2.27,1.94],[2.15,2.09],[2.0,2.18],[1.92,2.13],[1.89,1.99],[1.94,1.92],[1.81,1.79],[1.86,1.73],[1.64,1.79],[1.67,2.18],[2.15,1.75],[2.06,1.58],[2.2,1.65],[2.01,1.31],[2.15,1.38],[2.45,1.31],[1.52,1.57],[1.47,1.31],[1.36,1.02],[1.45,1.02],[1.28,0.76],[1.07,1.41],[1.19,1.44]];
const G1_light=[[0.59,1.05],[0.59,0.92],[0.77,0.58],[0.9,0.92],[0.93,0.73],[0.82,0.68],[0.7,0.31],[0,0.5],[0,0.31],[0.29,0.31],[0.3,0],[0.47,0],[0.85,0],[1.24,0.48],[1.3,0.31],[1.38,0.31],[1.65,0.94],[1.84,1.46],[0,null],[0.29,null],[0.47,null],[0.59,null],[0.75,null],[0.88,null],[null,0.73],[null,0.5],[null,0.34],[null,0]];
const G2_dark=[[3.49,2.79],[3.04,2.79],[2.56,2.63],[2.95,2.14],[2.71,2.11],[2.08,1.88],[2.28,1.9],[2.07,1.73],[2.17,1.68],[1.77,1.57],[2.15,1.07],[2.5,1.31],[1.62,1.18],[1.34,0.95]];
const G2_light=[[2.23,1.84],[1.43,1.07],[1.48,0.86],[1.62,0.86],[1.62,0.71],[1.48,0.61],[1.63,0.31],[1.34,0],[0.3,1.06],[0.59,0],[0.94,0.31],[0.3,null],[0.89,null]];
const S3_dark=[], S3_light=[[1.89,0.9],[0,0.48],[0,0],[0.48,0],[0.6,0],[0.9,0.3],[1.0,0],[null,0.48],[null,0],[0,null],[0.3,null],[0.48,null],[1.0,null]];
const C1_dark=[[4.26,3.72],[3.88,3.94],[3.63,3.69],[3.77,3.44],[3.41,3.39],[3.3,3.22],[3.22,3.1],[3.49,2.82],[3.03,2.96],[2.89,2.82],[2.72,2.63],[2.48,2.48],[2.61,2.36],[2.53,2.25],[2.31,2.25],[2.39,2.53],[1.93,2.48],[2.17,1.94],[2.12,1.77],[1.9,1.67],[1.79,1.48],[1.57,1.86],[2.59,1.44],[0.8,0.61]];
const C1_light=[[1.71,1.15],[0.94,0.96]];
const C2_dark=[[3.95,3.89],[4.08,3.14],[3.12,2.85],[3.31,2.82],[3.2,2.35],[2.54,2.15],[2.01,1.99],[1.75,1.79],[1.93,1.54],[1.85,1.36],[1.8,1.25],[1.35,1.04],[0.82,0.59]];
const C2_light=[];
const P1_dark=[[4.96,4.99],[4.32,4.44],[4.66,3.93],[4.32,3.46],[3.94,3.91],[3.57,3.75],[3.48,3.59],[3.39,3.32],[3.26,3.22],[3.02,3.0],[2.95,2.9],[2.77,2.97],[3.08,2.68],[2.95,2.61],[2.64,2.72],[2.33,2.61],[2.24,2.72],[1.99,2.65],[1.93,2.44],[2.4,2.05],[2.24,1.83],[2.09,1.78],[1.93,2.1],[1.78,1.89],[1.72,1.51],[1.31,1.19],[1.47,1.3],[1.22,1.06],[0.48,0.59]];
const P1_light=[[0.69,0]];
const P2_dark=[[4.2,4.24],[3.88,3.93],[3.53,4.03],[3.34,3.37],[3.28,2.83],[2.87,2.61],[1.79,2.26],[2.17,1.86],[2.03,1.72],[1.76,1.44],[1.16,1.18],[0.84,0.61]];
const P2_light=[[0.29,0.31]];
const D2_dark=[[5.89,5.46],[4.67,4.05],[3.14,3.89],[3.32,3.63],[3.75,3.19],[3.57,2.95],[2.82,3.19],[2.89,2.85],[2.14,2.4],[1.6,2.67],[1.89,1.59],[1.35,1.63],[1.17,1.42],[1.0,1.65],[2.6,1.06],[1.0,0.76],[0.89,0.28]];
const D2_light=[[1.17,1.18]];
const C3_dark=[[3.98,3.92]], C3_light=[[1.48,1.06]];
const F3_dark=[[2.16,2.01],[1.93,1.99]], F3_light=[[0.31,0.69]];
const D3_dark=[[3.06,3.87],[3.31,3.57],[2.04,2.38],[2.65,2.29],[1.98,1.79],[1.98,1.55]], D3_light=[[2.45,0.77],[0.67,0.59],[0.92,0.28],[0,null]];
const D4_dark=[[1.53,1.17]], D4_light=[];
const K_dark=[[3.92,3.83]], K_light=[];
const K1_dark=[[4.06,4.09],[3.18,3.53]], K1_light=[];
const P3_dark=[[3.95,3.95],[3.6,3.63]], P3_light=[];
const P4_dark=[[3.95,3.95],[3.67,3.33]], P4_light=[];
const K2_dark=[[3.93,3.93]], K2_light=[];
const K3_dark=[[3.93,3.93]], K3_light=[];
const P5_dark=[[3.93,3.93]], P5_light=[];
const P6_dark=[[3.93,3.93]], P6_light=[];
const P7_dark=[[3.91,3.91]], P7_light=[];
const P8_dark=[[3.91,3.91]], P8_light=[];
const P9_dark=[[3.91,3.91]], P9_light=[];
const C4_dark=[[3.91,3.91]], C4_light=[];
const O3_dark=[[3.91,3.91]], O3_light=[];
const O4_dark=[[3.91,3.91]], O4_light=[];

const darkSeries=[R_dark,R1_dark,D_dark,D1_dark,P_dark,C_dark,O_dark,F_dark,G_dark,S_dark,S1_dark,F1_dark,S2_dark,F2_dark,O1_dark,O2_dark,G1_dark,G2_dark,S3_dark,C1_dark,C2_dark,P1_dark,P2_dark,D2_dark,C3_dark,F3_dark,D3_dark,D4_dark,K_dark,K1_dark,P3_dark,P4_dark,K2_dark,K3_dark,P5_dark,P6_dark,P7_dark,P8_dark,P9_dark,C4_dark,O3_dark,O4_dark];
const lightSeries=[R_light,R1_light,D_light,D1_light,P_light,C_light,O_light,F_light,G_light,S_light,S1_light,F1_light,S2_light,F2_light,O1_light,O2_light,G1_light,G2_light,S3_light,C1_light,C2_light,P1_light,P2_light,D2_light,C3_light,F3_light,D3_light,D4_light,K_light,K1_light,P3_light,P4_light,K2_light,K3_light,P5_light,P6_light,P7_light,P8_light,P9_light,C4_light,O3_light,O4_light];

// ---------- drawing ----------
const LIN=1.04;           // width of the linear segment [0,1] of the symlog axis, in decades
const DARK="#f781bf", LIGHT="#fbc3e0";
const W=208, H=191, X0=112.5, Y0=14.5, DX=334.4, DY=286.6;
const TICK_FS=23, LABEL_FS=29.7;
function symT(e){ if(e===null) return 0; return e<=0 ? Math.pow(10,e)*LIN : LIN+e; }
function fmt(e){ return e===null ? "0" : "1e"+(e<0?"-":"+")+String(Math.abs(e)).padStart(2,"0"); }

const svg=d3.select("#chart");
svg.append("defs").append("clipPath").attr("id","pclip").append("rect").attr("x",0).attr("y",0).attr("width",W).attr("height",H);

panelNames.forEach((name,i)=>{
  const col=i%6, row=Math.floor(i/6);
  const g=svg.append("g").attr("transform",`translate(${X0+col*DX},${Y0+row*DY})`);
  const tmax=LIN+axisMaxLog[i];
  const x=d3.scaleLinear().domain([0,tmax]).range([0,W]);
  const y=d3.scaleLinear().domain([0,tmax]).range([H,0]);
  const exps=[null]; for(let e=0;e<=Math.floor(axisMaxLog[i]+1e-9);e++) exps.push(e);
  const tv=exps.map(symT);
  const lab=xLabelExps[i];

  const pg=g.append("g").attr("clip-path","url(#pclip)");
  pg.selectAll("circle.l").data(lightSeries[i]).join("circle").attr("class","l")
    .attr("cx",d=>x(symT(d[0]))).attr("cy",d=>y(symT(d[1]))).attr("r",1.7).attr("fill",LIGHT);
  pg.selectAll("circle.d").data(darkSeries[i]).join("circle").attr("class","d")
    .attr("cx",d=>x(symT(d[0]))).attr("cy",d=>y(symT(d[1]))).attr("r",1.7).attr("fill",DARK);

  const xa=g.append("g").attr("transform",`translate(0,${H})`)
    .call(d3.axisBottom(x).tickValues(tv).tickSize(8.5).tickSizeOuter(0).tickPadding(12.7)
      .tickFormat((d,j)=>{const e=exps[j]; return (e===null||lab.includes(e))?fmt(e):"";}));
  const ya=g.append("g")
    .call(d3.axisLeft(y).tickValues(tv).tickSize(8.5).tickSizeOuter(0).tickPadding(7)
      .tickFormat((d,j)=>fmt(exps[j])));
  [xa,ya].forEach(a=>{
    a.select(".domain").remove();
    a.selectAll(".tick line").attr("stroke","#000").attr("stroke-width",2);
    a.selectAll(".tick text").attr("font-size",TICK_FS).attr("font-family","DejaVu Sans").attr("fill","#000");
  });
  ya.selectAll(".tick text").attr("dy","0.36em");

  g.append("rect").attr("x",0).attr("y",0).attr("width",W).attr("height",H)
    .attr("fill","none").attr("stroke","#000").attr("stroke-width",2);

  g.append("text").attr("x",W/2).attr("y",22.5).attr("text-anchor","middle").attr("font-size",LABEL_FS).text(name+"__");
  g.append("text").attr("x",W/2).attr("y",H+69.5).attr("text-anchor","middle").attr("font-size",LABEL_FS).text("counts (metaG)");
  g.append("text").attr("transform",`translate(-82,${H/2}) rotate(-90)`).attr("text-anchor","middle").attr("font-size",LABEL_FS).text("counts (metaT)");
});
</script>
</body></html>
